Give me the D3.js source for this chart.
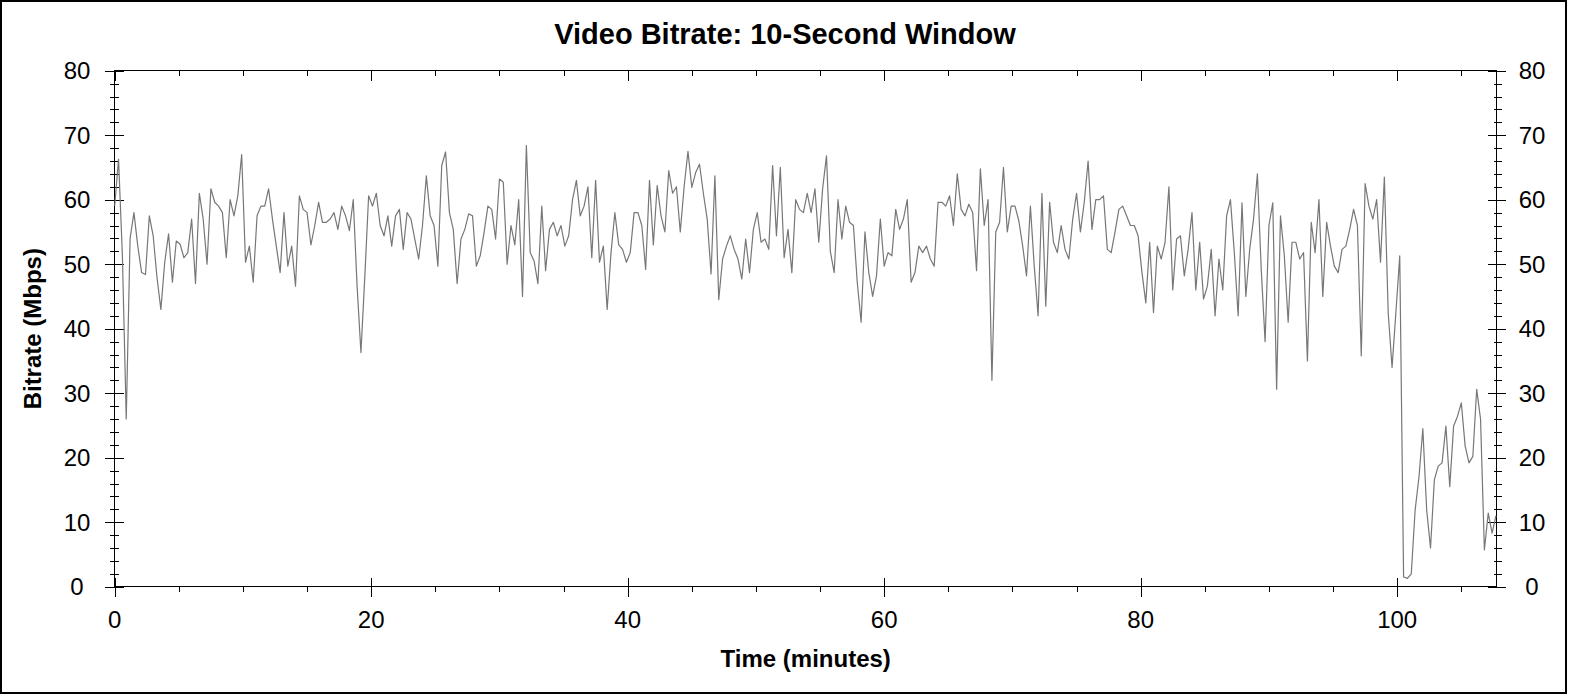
<!DOCTYPE html>
<html>
<head>
<meta charset="utf-8">
<script src="https://cdn.jsdelivr.net/npm/d3@7"></script>
<style>
  body { margin: 0; background: #fff; }
  text { font-family: Arial, "Liberation Sans", sans-serif; fill: #000; }
</style>
</head>
<body>
<script>
const title = 'Video Bitrate: 10-Second Window';
const xLabel = 'Time (minutes)';
const yLabel = 'Bitrate (Mbps)';

// one reading every 0.3 minutes, starting at 0
const stepMinutes = 0.3;
const bitrate = [
  // 0 - 13.5 min
  59, 66.3, 51.3, 26, 54, 58, 52.8, 48.7, 48.4, 57.5, 54.4, 47.9, 43, 50.3, 54.7, 47.2,
  53.6, 53.1, 51, 51.8, 57, 47, 61, 57, 50, 61.7, 59.6, 59, 58, 51, 60, 57.5,
  60.6, 67, 50.3, 52.8, 47.2, 57.5, 59, 59, 61.7, 57, 52.8, 48.7, 58, 49.7,
  // 13.8 - 27.3
  52.8, 46.6, 60.6, 58.5, 58, 53, 56, 59.6, 56.5, 56.5, 57, 58, 55.4, 59, 57.5, 55.2,
  60, 46.6, 36.3, 48, 60.6, 59, 61, 56, 54.4, 57.5, 52.8, 57.5, 58.5, 52.3, 58, 57,
  53.9, 50.8, 56, 63.7, 57.5, 56, 49.7, 65.3, 67.4, 58, 55.4, 47, 53.9, 55.4,
  // 27.6 - 40.8
  57.8, 57.5, 49.7, 51.3, 54.9, 59, 58.5, 53.9, 63.2, 62.7, 50, 56, 53, 60, 45, 68.4,
  51.8, 50.5, 47, 59, 49, 55.4, 56.5, 54.4, 56, 52.8, 54.4, 60, 63, 57.5, 59, 62,
  51, 63, 50.3, 52.8, 43, 51.8, 58, 53, 52.3, 50.3, 51.8, 58, 58,
  // 41.1 - 54.3
  56, 49.2, 63, 53, 62.2, 57.5, 55, 64.5, 61, 62, 55, 62, 67.5, 61.9, 64.2, 65.5,
  61, 57, 48.5, 63.7, 44.5, 50.8, 52.8, 54.4, 52.3, 50.8, 47.7, 53.9, 48.7, 55.4, 58, 53.4,
  53.9, 52.3, 65.3, 54.4, 65, 51, 55.4, 48.7, 60, 58.5, 58, 61, 58,
  // 54.6 - 68.1
  61.7, 53.4, 61.7, 66.8, 52, 48.7, 60, 53.9, 59, 56.5, 56, 47.2, 41, 55, 48.7, 45,
  48.2, 57, 49.7, 51.8, 51.3, 58.5, 55.4, 57, 60, 47.2, 48.7, 52.8, 51.8, 52.8, 50.8, 49.7,
  59.6, 59.6, 59, 60.6, 56, 64, 58.5, 57.5, 59.3, 58, 49, 64.8, 56, 60,
  // 68.4 - 81.6
  32, 55, 56.5, 65, 55, 59, 59, 56.7, 52.8, 48.2, 59, 49.7, 42, 61, 43.5, 59.6,
  53.4, 51.8, 56, 52.3, 50.8, 57, 61, 55, 59.6, 66, 55.4, 60, 60, 60.6, 52.3, 51.8,
  55, 58.5, 59, 57.5, 56, 56, 54.4, 48.7, 44, 53.4, 42.5, 52.8, 50.8,
  // 81.9 - 95.4
  53.4, 62, 46, 53.9, 54.4, 48.2, 52.3, 58, 46, 53.4, 44.6, 46.6, 52.3, 42, 50.8, 46,
  57.5, 60, 51.8, 42, 59.5, 45, 52.3, 57, 64, 49.2, 38, 56, 59.5, 30.6, 57.5, 51.3,
  41, 53.4, 53.4, 50.8, 51.8, 35, 56.5, 51.8, 60, 45, 56.5, 52.8, 49.7, 48.7,
  // 95.7 - 107.7
  52.3, 52.8, 55.4, 58.5, 56, 35.8, 62.5, 59, 57, 60, 50.3, 63.5, 42.5, 34, 42.5, 51.3,
  1.5, 1.3, 2, 11.9, 17, 24.5, 11.9, 6, 16.6, 18.7, 19.2, 24.9, 15.5, 24.9, 26.4, 28.5,
  21.8, 19.2, 20.2, 30.6, 26, 5.7, 11.4, 8.3, 11
];

const xDomain = [0, 107.76];
const yDomain = [0, 80];
const xTicks = [0, 20, 40, 60, 80, 100];
const yTicks = [0, 10, 20, 30, 40, 50, 60, 70, 80];
const xMinor = [5, 10, 15, 25, 30, 35, 45, 50, 55, 65, 70, 75, 85, 90, 95, 105];
const yMinor = d3.range(0, 80, 2).filter(d => d % 10 !== 0);

const width = 1570;
const height = 695;
const plot = {left: 114.7, right: 1496.7, top: 70.7, bottom: 586.7};

const svg = d3.select('body').append('svg')
    .attr('width', width)
    .attr('height', height);

// outer frame of the picture
svg.append('rect')
    .attr('x', 1).attr('y', 1)
    .attr('width', 1565).attr('height', 692)
    .attr('fill', 'none')
    .attr('stroke', '#000')
    .attr('stroke-width', 2);

const x = d3.scaleLinear().domain(xDomain).range([plot.left, plot.right]);
const y = d3.scaleLinear().domain(yDomain).range([plot.bottom, plot.top]);

// tick marks only, labels are drawn separately
function ticks(axis, values, size, tx, ty) {
  const g = svg.append('g')
      .attr('transform', `translate(${tx},${ty})`)
      .call(axis.tickValues(values).tickSize(size).tickFormat(''));
  g.select('.domain').remove();
  g.selectAll('line').attr('stroke', '#000').attr('shape-rendering', 'crispEdges');
  return g;
}

// left
ticks(d3.axisLeft(y), yTicks, 10, plot.left, 0);
ticks(d3.axisLeft(y), yTicks, -9, plot.left, 0);
ticks(d3.axisLeft(y), yMinor, 5, plot.left, 0);
ticks(d3.axisLeft(y), yMinor, -4, plot.left, 0);
// right
ticks(d3.axisRight(y), yTicks, 9, plot.right, 0);
ticks(d3.axisRight(y), yTicks, -9, plot.right, 0);
ticks(d3.axisRight(y), yMinor, 5, plot.right, 0);
ticks(d3.axisRight(y), yMinor, -3, plot.right, 0);
// bottom
ticks(d3.axisBottom(x), xTicks, 10, 0, plot.bottom);
ticks(d3.axisBottom(x), xTicks, -9, 0, plot.bottom);
ticks(d3.axisBottom(x), xMinor, 5, 0, plot.bottom);
// top
ticks(d3.axisTop(x), xTicks, -10, 0, plot.top);
ticks(d3.axisTop(x), xMinor, -5, 0, plot.top);

svg.append('rect')
    .attr('x', plot.left).attr('y', plot.top)
    .attr('width', plot.right - plot.left)
    .attr('height', plot.bottom - plot.top)
    .attr('fill', 'none')
    .attr('stroke', '#000')
    .attr('shape-rendering', 'crispEdges');

const line = d3.line()
    .x((d, i) => x(i * stepMinutes))
    .y(d => y(d));

svg.append('path')
    .datum(bitrate)
    .attr('d', line)
    .attr('fill', 'none')
    .attr('stroke', '#777')
    .attr('stroke-width', 1.2)
    .attr('stroke-linejoin', 'round');

// tick labels
svg.append('g').selectAll('text').data(yTicks).join('text')
    .attr('x', 77)
    .attr('y', d => y(d) + 8.5)
    .attr('text-anchor', 'middle')
    .attr('font-size', 24)
    .text(d => d);

svg.append('g').selectAll('text').data(yTicks).join('text')
    .attr('x', 1532)
    .attr('y', d => y(d) + 8.5)
    .attr('text-anchor', 'middle')
    .attr('font-size', 24)
    .text(d => d);

svg.append('g').selectAll('text').data(xTicks).join('text')
    .attr('x', d => x(d))
    .attr('y', 628)
    .attr('text-anchor', 'middle')
    .attr('font-size', 24)
    .text(d => d);

svg.append('text')
    .attr('x', 785).attr('y', 44)
    .attr('text-anchor', 'middle')
    .attr('font-size', 29)
    .attr('font-weight', 'bold')
    .text(title);

svg.append('text')
    .attr('x', (plot.left + plot.right) / 2).attr('y', 667)
    .attr('text-anchor', 'middle')
    .attr('font-size', 24)
    .attr('font-weight', 'bold')
    .text(xLabel);

svg.append('text')
    .attr('transform', `translate(41,${(plot.top + plot.bottom) / 2}) rotate(-90)`)
    .attr('text-anchor', 'middle')
    .attr('font-size', 24)
    .attr('font-weight', 'bold')
    .text(yLabel);
</script>
</body>
</html>
